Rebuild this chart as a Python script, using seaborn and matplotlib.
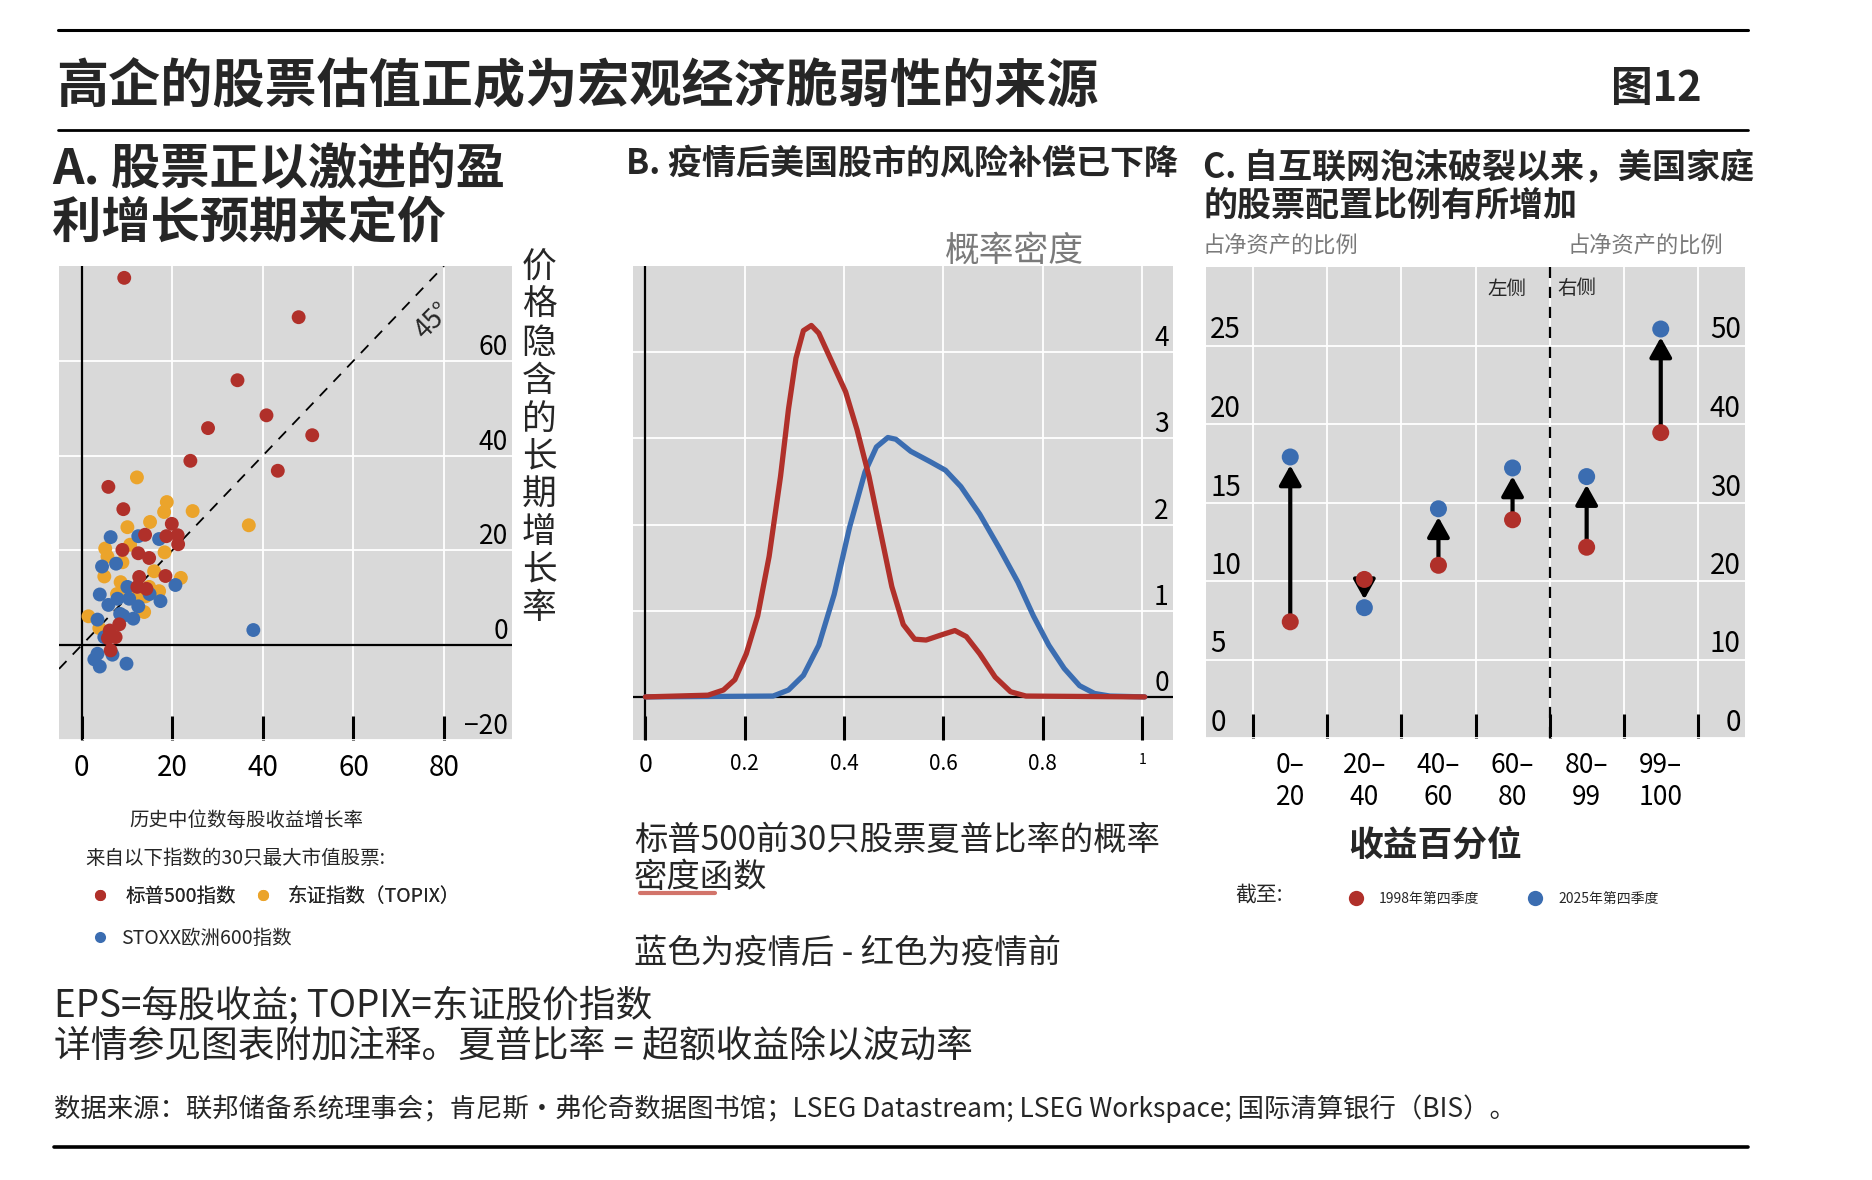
import numpy as np
import pandas as pd
import matplotlib
matplotlib.use("Agg")
import matplotlib.pyplot as plt
from matplotlib.lines import Line2D
import seaborn as sns

sns.set_theme(style="darkgrid")
plt.rcParams['font.family'] = ['Noto Sans CJK SC', 'DejaVu Sans']

# ---------- 数据 ----------
# A: 历史中位数EPS增长率 vs 价格隐含的长期增长率
spx_x = [9.4, 47.9, 34.4, 40.8, 27.9, 50.9, 24.0, 43.3, 5.9, 9.2, 19.9, 14.0, 18.7,
         21.2, 21.3, 9.0, 12.5, 14.9, 18.5, 12.7, 12.3, 14.3, 8.3, 6.2, 7.5, 6.4, 5.8]
spx_y = [77.5, 69.2, 55.9, 48.5, 45.8, 44.3, 38.9, 36.8, 33.4, 28.7, 25.6, 23.3, 23.0,
         23.2, 21.3, 20.1, 19.4, 18.4, 14.6, 14.4, 12.3, 11.9, 4.4, 3.1, 1.7, -1.1, 1.5]
topix_x = [12.2, 18.8, 18.2, 24.5, 36.9, 15.1, 10.1, 10.7, 5.2, 5.7, 9.0, 18.3, 16.0,
           5.0, 21.9, 8.6, 14.9, 17.1, 7.8, 14.1, 13.8, 1.5, 3.9, 10.6, 12.0]
topix_y = [35.4, 30.2, 28.1, 28.3, 25.3, 26.0, 24.9, 21.2, 20.4, 18.7, 17.5, 19.6, 15.6,
           14.5, 14.2, 13.3, 12.3, 11.4, 10.8, 10.3, 7.0, 6.1, 3.6, 11.8, 9.5]
stoxx_x = [6.4, 12.5, 17.1, 4.5, 7.6, 20.7, 10.1, 4.0, 10.5, 15.0, 17.4, 5.9, 7.9,
           12.5, 8.5, 11.4, 3.5, 5.0, 37.9, 3.5, 2.8, 4.0, 9.9, 6.8, 9.2]
stoxx_y = [22.8, 23.0, 22.4, 16.6, 17.2, 12.7, 12.3, 10.7, 9.8, 10.8, 9.3, 8.5, 9.8,
           8.2, 6.6, 5.6, 5.4, 1.7, 3.2, -1.8, -3.0, -4.5, -3.9, -2.0, 6.2]

# B: 夏普比率概率密度
pre_x = [0.0, 0.126, 0.157, 0.18, 0.203, 0.226, 0.249, 0.272, 0.288, 0.303, 0.318, 0.334,
         0.349, 0.372, 0.403, 0.426, 0.45, 0.473, 0.496, 0.519, 0.542, 0.565, 0.596,
         0.623, 0.646, 0.673, 0.704, 0.735, 0.766, 1.005]
pre_y = [0.0, 0.02, 0.08, 0.2, 0.5, 0.94, 1.63, 2.56, 3.34, 3.93, 4.25, 4.31,
         4.22, 3.93, 3.54, 3.1, 2.56, 1.92, 1.28, 0.84, 0.67, 0.66, 0.72,
         0.77, 0.70, 0.5, 0.23, 0.06, 0.01, 0.0]
post_x = [0.0, 0.257, 0.288, 0.318, 0.349, 0.38, 0.411, 0.442, 0.465, 0.488, 0.504, 0.534,
          0.573, 0.604, 0.635, 0.673, 0.712, 0.75, 0.781, 0.812, 0.843, 0.874, 0.904,
          0.935, 1.005]
post_y = [0.0, 0.01, 0.08, 0.25, 0.6, 1.19, 1.97, 2.61, 2.9, 3.01, 2.99, 2.85,
          2.73, 2.63, 2.44, 2.12, 1.73, 1.33, 0.94, 0.6, 0.33, 0.13, 0.04,
          0.01, 0.0]

# C: 美国家庭股票占净资产比例（前四组左轴，后两组右轴）
pct_groups = ["0–\n20", "20–\n40", "40–\n60", "60–\n80", "80–\n99", "99–\n100"]
q4_1998 = [7.4, 10.1, 11.0, 13.9, 24.3, 38.9]
q4_2025 = [17.9, 8.3, 14.6, 17.2, 33.3, 52.1]
axis_side = ["左", "左", "左", "左", "右", "右"]

RED = '#b0302a'
BLUE = '#3b6db1'
GOLD = '#eba42b'
BG = '#d9d9d9'
GREY = '#7a7a7a'

W, H = 1872, 1180
fig = plt.figure(figsize=(W / 100, H / 100), dpi=100)


def fx(px):
    return px / W


def fy(py):
    return 1 - py / H


def box(l, t, r, b):
    return [l / W, 1 - b / H, (r - l) / W, (b - t) / H]


def style(ax):
    ax.set_facecolor(BG)
    for s in ax.spines.values():
        s.set_visible(False)
    ax.grid(True, color='white', lw=1.3)
    ax.set_axisbelow(True)
    ax.set_xlabel('')
    ax.set_ylabel('')


def inside_labels(ax, side):
    # 刻度标签放在坐标区内侧，略高于网格线
    for lab in ax.get_yticklabels():
        lab.set_ha('right' if side == 'right' else 'left')
        lab.set_va('bottom')


axA = fig.add_axes(box(59, 266, 512, 740))
axB = fig.add_axes(box(633, 266, 1173, 740))
axC = fig.add_axes(box(1206, 267, 1745, 738))

# ---------- A ----------
dfA = pd.concat([
    pd.DataFrame({'eps': topix_x, 'implied': topix_y, 'idx': '东证指数（TOPIX）'}),
    pd.DataFrame({'eps': stoxx_x, 'implied': stoxx_y, 'idx': 'STOXX欧洲600指数'}),
    pd.DataFrame({'eps': spx_x, 'implied': spx_y, 'idx': '标普500指数'}),
], ignore_index=True)
sns.scatterplot(data=dfA, x='eps', y='implied', hue='idx',
                palette={'标普500指数': RED, '东证指数（TOPIX）': GOLD, 'STOXX欧洲600指数': BLUE},
                s=100, linewidth=0, legend=False, ax=axA, zorder=3)
style(axA)
axA.set_xlim(-5, 95)
axA.set_ylim(-20, 80)
axA.axline((0, 0), slope=1, color='black', lw=1.3, ls=(0, (6, 5)), zorder=2)
axA.axvline(0, color='black', lw=1.6, zorder=2)
axA.axhline(0, color='black', lw=1.6, zorder=2)
axA.set_xticks([0, 20, 40, 60, 80])
axA.set_yticks([-20, 0, 20, 40, 60])
axA.tick_params(axis='x', direction='in', length=17, width=2.2, color='black',
                bottom=True, pad=9, labelsize=20, labelcolor='black')
axA.yaxis.tick_right()
axA.tick_params(axis='y', left=False, right=False, labelleft=False, labelright=True,
                pad=-9, labelsize=19, labelcolor='black')
inside_labels(axA, 'right')
axA.text(77.5, 68.5, '45°', rotation=45, fontsize=19, ha='center', va='center')

# ---------- B ----------
dfB = pd.concat([
    pd.DataFrame({'sharpe': post_x, 'density': post_y, 'period': '疫情后'}),
    pd.DataFrame({'sharpe': pre_x, 'density': pre_y, 'period': '疫情前'}),
], ignore_index=True)
sns.lineplot(data=dfB, x='sharpe', y='density', hue='period', hue_order=['疫情后', '疫情前'],
             palette={'疫情后': BLUE, '疫情前': RED}, linewidth=3.8, legend=False,
             sort=False, ax=axB, zorder=3)
style(axB)
axB.set_xlim(-0.025, 1.062)
axB.set_ylim(-0.5, 5.0)
axB.axvline(0, color='black', lw=1.6, zorder=2)
axB.axhline(0, color='black', lw=1.6, zorder=2)
axB.set_xticks([0, 0.2, 0.4, 0.6, 0.8, 1.0], labels=['0', '0.2', '0.4', '0.6', '0.8', '1'])
axB.set_yticks([0, 1, 2, 3, 4])
axB.tick_params(axis='x', direction='in', length=17, width=2.2, color='black',
                bottom=True, pad=9, labelsize=15, labelcolor='black')
xl = axB.get_xticklabels()
xl[0].set_fontsize(18)
xl[-1].set_fontsize(10)
axB.yaxis.tick_right()
axB.tick_params(axis='y', left=False, right=False, labelleft=False, labelright=True,
                pad=-9, labelsize=19, labelcolor='black')
inside_labels(axB, 'right')

# ---------- C ----------
axC2 = axC.twinx()
dfC = pd.DataFrame({
    'pos': list(range(6)) * 2,
    'share': q4_1998 + q4_2025,
    'year': ['1998年第四季度'] * 6 + ['2025年第四季度'] * 6,
    'side': axis_side * 2,
})
palC = {'1998年第四季度': RED, '2025年第四季度': BLUE}
for a, side in [(axC, '左'), (axC2, '右')]:
    sub = dfC[dfC['side'] == side]
    sns.scatterplot(data=sub, x='pos', y='share', hue='year', palette=palC, s=150,
                    linewidth=0, legend=False, ax=a, zorder=4)
    for i in sorted(set(sub['pos'])):
        a.annotate('', xy=(i, q4_2025[i]), xytext=(i, q4_1998[i]),
                   arrowprops=dict(arrowstyle='-|>,head_length=0.5,head_width=0.28',
                                   color='black', lw=3, shrinkA=0, shrinkB=6,
                                   mutation_scale=24), zorder=3)
style(axC)
axC2.grid(False)
axC2.set_xlabel('')
axC2.set_ylabel('')
for s in axC2.spines.values():
    s.set_visible(False)
axC.set_xlim(-1.137, 6.137)
axC.set_ylim(0, 30)
axC2.set_ylim(0, 60)
axC.set_xticks(range(6), labels=pct_groups)
axC.set_xticks(np.arange(-0.5, 6), minor=True)
axC.grid(False, which='major', axis='x')
axC.grid(True, which='minor', axis='x', color='white', lw=1.3)
axC.axvline(3.5, color='black', lw=1.6, ls=(0, (5, 4)), zorder=2)
axC.tick_params(axis='x', which='major', length=0, pad=10, labelsize=19,
                labelcolor='black')
axC.tick_params(axis='x', which='minor', direction='in', length=17, width=2.2,
                color='black', bottom=True)
for lab in axC.get_xticklabels():
    lab.set_linespacing(1.25)
axC.set_yticks([0, 5, 10, 15, 20, 25])
axC.tick_params(axis='y', left=False, labelleft=True, pad=-9, labelsize=20,
                labelcolor='black')
inside_labels(axC, 'left')
axC2.set_yticks([0, 10, 20, 30, 40, 50])
axC2.tick_params(axis='y', right=False, labelright=True, pad=-9, labelsize=20,
                 labelcolor='black')
inside_labels(axC2, 'right')
axC.text(3.19, 28.6, '左侧', ha='right', va='center', fontsize=14)
axC.text(3.61, 28.6, '右侧', ha='left', va='center', fontsize=14)

# ---------- 标题与文字 ----------
for y, lw in [(30, 2.2), (130, 2.0)]:
    fig.add_artist(Line2D([fx(58), fx(1748)], [fy(y), fy(y)], color='black', lw=lw))
fig.add_artist(Line2D([fx(54), fx(1748)], [fy(1147), fy(1147)], color='black', lw=2.6))

fig.text(fx(56), fy(86), '高企的股票估值正成为宏观经济脆弱性的来源', fontsize=37.5,
         weight='bold', ha='left', va='center')
fig.text(fx(1702), fy(89), '图12', fontsize=30, weight='bold', ha='right', va='center')

fig.text(fx(52), fy(169), 'A. 股票正以激进的盈', fontsize=35.5, weight='bold', va='center')
fig.text(fx(52), fy(224), '利增长预期来定价', fontsize=35.5, weight='bold', va='center')
fig.text(fx(626), fy(163), 'B. 疫情后美国股市的风险补偿已下降', fontsize=24.5,
         weight='bold', va='center')
fig.text(fx(1203), fy(168), 'C. 自互联网泡沫破裂以来，美国家庭', fontsize=24.5,
         weight='bold', va='center')
fig.text(fx(1203), fy(205), '的股票配置比例有所增加', fontsize=24.5, weight='bold', va='center')

fig.text(fx(1202), fy(246), '占净资产的比例', fontsize=16, color=GREY, va='center')
fig.text(fx(1723), fy(246), '占净资产的比例', fontsize=16, color=GREY, va='center', ha='right')
fig.text(fx(1014), fy(251), '概率密度', fontsize=25, color=GREY, va='center', ha='center')

ylabel_a = '价格隐含的长期增长率'
for i, ch in enumerate(ylabel_a):
    fig.text(fx(539), fy(268 + i * 37.8), ch, fontsize=25, ha='center', va='center')

fig.text(fx(246), fy(820), '历史中位数每股收益增长率', fontsize=14, ha='center', va='center')
fig.text(fx(85), fy(858), '来自以下指数的30只最大市值股票:', fontsize=14, va='center')


def dot(c, ms):
    return Line2D([], [], marker='o', ls='', color=c, markersize=ms, markeredgewidth=0)


legA1 = fig.legend([dot(RED, 8), dot(GOLD, 8)], ['标普500指数', '东证指数（TOPIX）'],
                   ncol=2, loc='center left', bbox_to_anchor=(fx(90), fy(896)),
                   fontsize=14, frameon=False, handlelength=1, handletextpad=0.8,
                   columnspacing=0.9, borderpad=0, borderaxespad=0)
legA2 = fig.legend([dot(BLUE, 8)], ['STOXX欧洲600指数'],
                   loc='center left', bbox_to_anchor=(fx(90), fy(938)),
                   fontsize=14, frameon=False, handlelength=1, handletextpad=0.6,
                   borderpad=0, borderaxespad=0)
fig.add_artist(legA1)

fig.text(fx(634), fy(840), '标普500前30只股票夏普比率的概率', fontsize=24, va='center')
fig.text(fx(634), fy(877), '密度函数', fontsize=24, va='center')
fig.add_artist(Line2D([fx(640), fx(715)], [fy(893), fy(893)], color='#c0392b', lw=3,
                      alpha=0.7, solid_capstyle='round'))
fig.text(fx(634), fy(953), '蓝色为疫情后 - 红色为疫情前', fontsize=24, va='center')

fig.text(fx(1435), fy(845), '收益百分位', fontsize=25, weight='bold', ha='center', va='center')
fig.text(fx(1235), fy(895), '截至:', fontsize=15, va='center')
legC = fig.legend([dot(RED, 11), dot(BLUE, 11)], ['1998年第四季度', '2025年第四季度'],
                  ncol=2, loc='center left', bbox_to_anchor=(fx(1345), fy(899)),
                  fontsize=10, frameon=False, handlelength=1.6, handletextpad=0.86,
                  columnspacing=3.2, borderpad=0, borderaxespad=0)

fig.text(fx(54), fy(1006), 'EPS=每股收益; TOPIX=东证股价指数', fontsize=26.5, va='center')
fig.text(fx(54), fy(1046), '详情参见图表附加注释。夏普比率 = 超额收益除以波动率', fontsize=26.5,
         va='center')
fig.text(fx(54), fy(1109),
         '数据来源：联邦储备系统理事会；肯尼斯·弗伦奇数据图书馆；LSEG Datastream; '
         'LSEG Workspace; 国际清算银行（BIS）。', fontsize=19, va='center')

fig.savefig('out.png', dpi=100)
